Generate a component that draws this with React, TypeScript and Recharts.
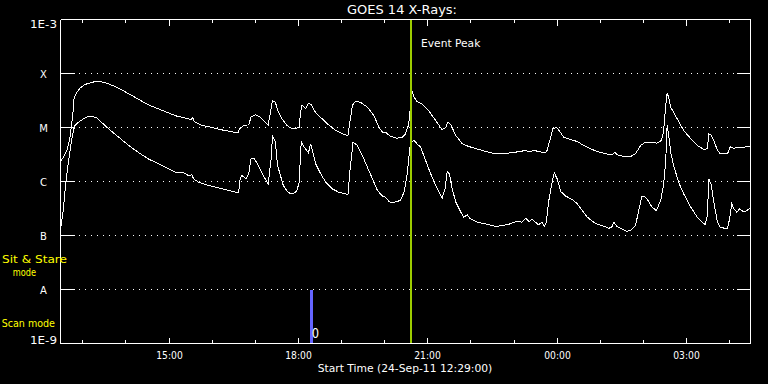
import React from "react";
import { LineChart, Line, XAxis, YAxis, CartesianGrid, ReferenceLine } from "recharts";

document.body.style.margin = "0";
document.body.style.background = "#000";

// minutes after 24-Sep-11 12:29:00
const START_MIN = 12 * 60 + 29;
const hourTicks = [31, 91, 151, 211, 271, 331, 391, 451, 511, 571, 631, 691, 751, 811, 871, 931];
const fluxTicks = [1e-9, 1e-8, 1e-7, 1e-6, 1e-5, 1e-4, 1e-3];
const fluxLabels = ["1E-9", "A", "B", "C", "M", "X", "1E-3"];
const eventPeak = 487;
const scanMark = 349;

// 1-8 A channel
const longTime = [
  1, 4, 9, 13, 17, 19, 23, 27, 34, 44,
  51, 57, 67, 81, 95, 109, 122, 136, 150, 162,
  178, 182, 184, 186, 197, 211, 224, 236, 247, 249,
  255, 262, 265, 271, 278, 285, 289, 293, 295, 299,
  302, 308, 315, 322, 327, 332, 334, 336, 341, 345,
  349, 355, 364, 373, 383, 392, 400, 402, 406, 410,
  417, 427, 436, 443, 448, 453, 459, 468, 475, 480,
  484, 486, 488, 492, 496, 503, 512, 522, 531, 536,
  539, 543, 550, 559, 568, 582, 601, 619, 633, 647,
  652, 661, 663, 675, 677, 682, 685, 690, 696, 700,
  710, 719, 728, 737, 747, 758, 768, 771, 775, 783,
  793, 800, 807, 814, 823, 830, 836, 839, 842, 844,
  846, 849, 858, 867, 877, 886, 895, 900, 902, 905,
  909, 914, 918, 928, 932, 937, 941, 951, 959,
];
const longFlux = [
  2.45e-6, 2.82e-6, 3.75e-6, 6.18e-6, 1.67e-5, 3.64e-5, 4.51e-5, 5.35e-5, 6.25e-5, 6.9e-5,
  7.11e-5, 7.02e-5, 6.44e-5, 5.35e-5, 4.21e-5, 3.3e-5, 2.63e-5, 2.22e-5, 1.87e-5, 1.62e-5,
  1.45e-5, 1.39e-5, 1.55e-5, 1.29e-5, 1.09e-5, 1.0e-5, 9.06e-6, 8.43e-6, 7.98e-6, 9.46e-6,
  1.09e-5, 1.12e-5, 1.55e-5, 1.72e-5, 1.55e-5, 1.25e-5, 1.12e-5, 2.22e-5, 3.16e-5, 2.94e-5,
  2.07e-5, 1.45e-5, 1.09e-5, 9.46e-6, 9.46e-6, 1.01e-5, 1.92e-5, 2.63e-5, 2.22e-5, 2.82e-5,
  2.63e-5, 1.87e-5, 1.45e-5, 1.12e-5, 8.8e-6, 7.64e-6, 7.11e-6, 1.09e-5, 2.55e-5, 3.03e-5,
  2.94e-5, 2.38e-5, 1.67e-5, 1.01e-5, 8.18e-6, 7.98e-6, 6.9e-6, 6.34e-6, 6.53e-6, 7.64e-6,
  1.09e-5, 1.72e-5, 5.35e-5, 3.64e-5, 3.03e-5, 2.75e-5, 2.07e-5, 1.35e-5, 9.06e-6, 1.01e-5,
  1.25e-5, 1.12e-5, 7.11e-6, 4.99e-6, 4.45e-6, 3.92e-6, 3.34e-6, 3.3e-6, 3.49e-6, 3.75e-6,
  3.6e-6, 3.75e-6, 3.6e-6, 3.4e-6, 3.75e-6, 6.61e-6, 9.46e-6, 1.01e-5, 7.98e-6, 6.61e-6,
  5.92e-6, 5.51e-6, 4.64e-6, 4.04e-6, 3.6e-6, 3.26e-6, 3.12e-6, 3.49e-6, 3.12e-6, 2.94e-6,
  2.9e-6, 3.26e-6, 4.64e-6, 5.35e-6, 5.35e-6, 5.12e-6, 5.74e-6, 8.18e-6, 2.55e-5, 4.4e-5,
  3.64e-5, 2.38e-5, 1.45e-5, 8.8e-6, 6.18e-6, 4.64e-6, 3.92e-6, 4.04e-6, 7.64e-6, 7.33e-6,
  5.74e-6, 3.75e-6, 3.26e-6, 3.26e-6, 4.45e-6, 4.04e-6, 4.32e-6, 4.32e-6, 4.51e-6,
];

// 0.5-4 A channel
const shortTime = [
  1, 4, 7, 11, 15, 18, 20, 25, 32, 39,
  44, 51, 57, 67, 81, 95, 109, 122, 136, 150,
  162, 170, 178, 183, 185, 192, 206, 220, 234, 248,
  249, 252, 256, 258, 262, 265, 270, 275, 282, 289,
  293, 295, 299, 302, 310, 317, 324, 329, 332, 335,
  339, 345, 348, 351, 355, 362, 369, 378, 387, 400,
  403, 407, 413, 420, 427, 434, 441, 448, 452, 457,
  461, 468, 473, 478, 482, 485, 487, 489, 492, 496,
  501, 508, 515, 522, 531, 535, 538, 541, 545, 550,
  557, 561, 566, 570, 580, 591, 605, 615, 624, 635,
  642, 647, 652, 656, 661, 665, 670, 673, 676, 679,
  684, 687, 691, 696, 703, 712, 719, 726, 733, 742,
  749, 756, 763, 767, 770, 774, 779, 788, 793, 800,
  805, 809, 814, 819, 823, 829, 835, 839, 842, 844,
  846, 849, 853, 860, 867, 877, 886, 893, 897, 900,
  902, 905, 909, 914, 918, 928, 931, 934, 937, 941,
  945, 951, 955, 959,
];
const shortFlux = [
  1.53e-7, 3.12e-7, 8.43e-7, 2.28e-6, 5.35e-6, 8.8e-6, 1.09e-5, 1.25e-5, 1.45e-5, 1.6e-5,
  1.62e-5, 1.49e-5, 1.25e-5, 9.46e-6, 6.61e-6, 4.64e-6, 3.4e-6, 2.63e-6, 2.13e-6, 1.72e-6,
  1.45e-6, 1.49e-6, 1.29e-6, 1.33e-6, 1.12e-6, 9.7e-7, 8.43e-7, 7.64e-7, 6.81e-7, 6.18e-7,
  1.0e-6, 1.29e-6, 1.2e-6, 1.12e-6, 1.39e-6, 2.63e-6, 2.63e-6, 1.98e-6, 1.29e-6, 9.06e-7,
  2.63e-6, 7.11e-6, 5.35e-6, 1.98e-6, 8.43e-7, 6.18e-7, 5.92e-7, 6.81e-7, 9.7e-7, 5.51e-6,
  4.32e-6, 3.4e-6, 4.99e-6, 3.49e-6, 2.13e-6, 1.39e-6, 9.7e-7, 7.33e-7, 6.34e-7, 5.74e-7,
  1.72e-6, 5.35e-6, 4.64e-6, 3.03e-6, 1.84e-6, 1.12e-6, 6.81e-7, 5.35e-7, 5.12e-7, 4.27e-7,
  4.04e-7, 4.27e-7, 4.45e-7, 6.34e-7, 1.29e-6, 3.03e-6, 5.27e-6, 5.51e-6, 5.74e-6, 4.99e-6,
  4.32e-6, 2.45e-6, 1.39e-6, 8.43e-7, 4.91e-7, 7.33e-7, 1.55e-6, 1.39e-6, 7.33e-7, 4.14e-7,
  2.7e-7, 2.18e-7, 2.42e-7, 2.04e-7, 1.76e-7, 1.65e-7, 1.47e-7, 1.53e-7, 1.62e-7, 1.84e-7,
  1.76e-7, 2.09e-7, 1.82e-7, 1.98e-7, 1.76e-7, 1.58e-7, 1.76e-7, 1.49e-7, 1.76e-7, 4.14e-7,
  9.7e-7, 1.45e-6, 1.12e-6, 6.53e-7, 5.35e-7, 4.64e-7, 3.86e-7, 2.9e-7, 2.18e-7, 1.76e-7,
  1.58e-7, 1.49e-7, 1.36e-7, 1.43e-7, 1.76e-7, 1.49e-7, 1.36e-7, 1.19e-7, 1.24e-7, 1.53e-7,
  3.12e-7, 5.35e-7, 5.12e-7, 4.14e-7, 3.34e-7, 2.9e-7, 4.45e-7, 8.43e-7, 2.28e-6, 1.09e-5,
  7.64e-6, 3.49e-6, 1.98e-6, 9.7e-7, 5.92e-7, 3.34e-7, 2.18e-7, 1.76e-7, 1.6e-7, 2.34e-7,
  1.12e-6, 9.06e-7, 4.14e-7, 1.76e-7, 1.39e-7, 1.36e-7, 2.04e-7, 3.86e-7, 3.12e-7, 2.7e-7,
  3.12e-7, 2.7e-7, 2.9e-7, 3.21e-7,
];

const longData = longTime.map((m, i) => ({ m, flux: longFlux[i] }));
const shortData = shortTime.map((m, i) => ({ m, flux: shortFlux[i] }));

const FONT = "'DejaVu Sans', sans-serif";
const YELLOW = "#ffff00";

const snap = (v: number) => Math.round(v - 0.5) + 0.5;

function clock(m: number) {
  const t = (START_MIN + m) % 1440;
  const h = Math.floor(t / 60);
  const mm = t % 60;
  return `${String(h).padStart(2, "0")}:${String(mm).padStart(2, "0")}`;
}
const isMajor = (m: number) => (START_MIN + m) % 180 === 0;

function BottomTick({ x, y, payload }: any) {
  const major = isMajor(payload.value);
  const sx = snap(x);
  return (
    <g>
      <line x1={sx} x2={sx} y1={y} y2={y - (major ? 6 : 3.5)} stroke="#fff" />
      {major && (
        <text x={sx} y={y + 15.5} textAnchor="middle" fill="#fff" fontSize={10} fontFamily={FONT}
          textLength={26.5} lengthAdjust="spacingAndGlyphs">
          {clock(payload.value)}
        </text>
      )}
    </g>
  );
}

function TopTick({ x, y, payload }: any) {
  const major = isMajor(payload.value);
  const sx = snap(x);
  return <line x1={sx} x2={sx} y1={y} y2={y + (major ? 6.5 : 3.5)} stroke="#fff" />;
}

function LeftTick({ x, y, payload }: any) {
  const idx = Math.round(Math.log10(payload.value)) + 9;
  const label = fluxLabels[idx];
  const dy = idx === 6 ? 8 : idx === 0 ? 0.5 : 4;
  const wide = label.length > 1;
  return (
    <g>
      <line x1={x} x2={x + 14} y1={y} y2={y} stroke="#fff" />
      <text x={x - 17} y={y + dy} textAnchor="middle" fill="#fff" fontSize={10} fontFamily={FONT}
        {...(wide ? { textLength: 27, lengthAdjust: "spacingAndGlyphs" } : {})}>
        {label}
      </text>
    </g>
  );
}

function RightTick({ x, y }: any) {
  return <line x1={x} x2={x - 14} y1={y} y2={y} stroke="#fff" />;
}

function EventLabel({ viewBox }: any) {
  return (
    <text x={viewBox.x + 10.5} y={viewBox.y + 27.2} fill="#fff" fontSize={11} fontFamily={FONT}
      textLength={59.3} lengthAdjust="spacingAndGlyphs">
      Event Peak
    </text>
  );
}

export default function App() {
  return (
    <div style={{ position: "relative", width: 768, height: 384, background: "#000" }}>
      <LineChart
        width={768}
        height={384}
        margin={{ top: 0, right: 0, bottom: 0, left: 0 }}
        style={{ shapeRendering: "crispEdges" }}
      >
        <CartesianGrid vertical={false} stroke="#fff" strokeDasharray="1 5" />
        <XAxis
          dataKey="m"
          type="number"
          domain={[0, 960]}
          allowDataOverflow
          ticks={hourTicks}
          interval={0}
          height={40.5}
          tickSize={0}
          tickMargin={0}
          tickLine={false}
          axisLine={{ stroke: "#fff" }}
          tick={<BottomTick />}
        />
        <XAxis
          xAxisId="top"
          orientation="top"
          dataKey="m"
          type="number"
          domain={[0, 960]}
          allowDataOverflow
          ticks={hourTicks}
          interval={0}
          height={19.5}
          tickSize={0}
          tickMargin={0}
          tickLine={false}
          axisLine={{ stroke: "#fff" }}
          tick={<TopTick />}
        />
        <YAxis
          type="number"
          scale="log"
          domain={[1e-9, 1e-3]}
          allowDataOverflow
          ticks={fluxTicks}
          interval={0}
          width={60.5}
          tickSize={0}
          tickMargin={0}
          tickLine={false}
          axisLine={{ stroke: "#fff" }}
          tick={<LeftTick />}
        />
        <YAxis
          yAxisId="right"
          orientation="right"
          type="number"
          scale="log"
          domain={[1e-9, 1e-3]}
          allowDataOverflow
          ticks={fluxTicks}
          interval={0}
          width={17.5}
          tickSize={0}
          tickMargin={0}
          tickLine={false}
          axisLine={{ stroke: "#fff" }}
          tick={<RightTick />}
        />
        <Line data={longData} dataKey="flux" type="linear" stroke="#fff" strokeWidth={1}
          dot={false} isAnimationActive={false} />
        <Line data={shortData} dataKey="flux" type="linear" stroke="#fff" strokeWidth={1}
          dot={false} isAnimationActive={false} />
        <ReferenceLine x={eventPeak} stroke="#9ccc00" strokeWidth={2} label={<EventLabel />} />
        <ReferenceLine
          segment={[{ x: scanMark, y: 1e-8 }, { x: scanMark, y: 1e-9 }]}
          stroke="#6464ff"
          strokeWidth={3}
        />
      </LineChart>
      <svg width={768} height={384} style={{ position: "absolute", left: 0, top: 0, pointerEvents: "none" }}>
        <text x={347} y={13.8} fill="#fff" fontSize={12} fontFamily={FONT} textLength={110}
          lengthAdjust="spacingAndGlyphs">GOES 14 X-Rays:</text>
        <text x={317.7} y={372} fill="#fff" fontSize={10} fontFamily={FONT} textLength={174.6}
          lengthAdjust="spacingAndGlyphs">Start Time (24-Sep-11 12:29:00)</text>
        <text x={2} y={262.5} fill={YELLOW} fontSize={10.5} fontFamily={FONT} textLength={65}
          lengthAdjust="spacingAndGlyphs">Sit &amp; Stare</text>
        <text x={12.7} y={275.5} fill={YELLOW} fontSize={10.5} fontFamily={FONT} textLength={23.3}
          lengthAdjust="spacingAndGlyphs">mode</text>
        <text x={1.7} y={327.3} fill={YELLOW} fontSize={10.5} fontFamily={FONT} textLength={53.3}
          lengthAdjust="spacingAndGlyphs">Scan mode</text>
        <text x={311.8} y={338.3} fill="#fff" fontSize={14} fontFamily={FONT} textLength={7.3}
          lengthAdjust="spacingAndGlyphs">0</text>
      </svg>
    </div>
  );
}
